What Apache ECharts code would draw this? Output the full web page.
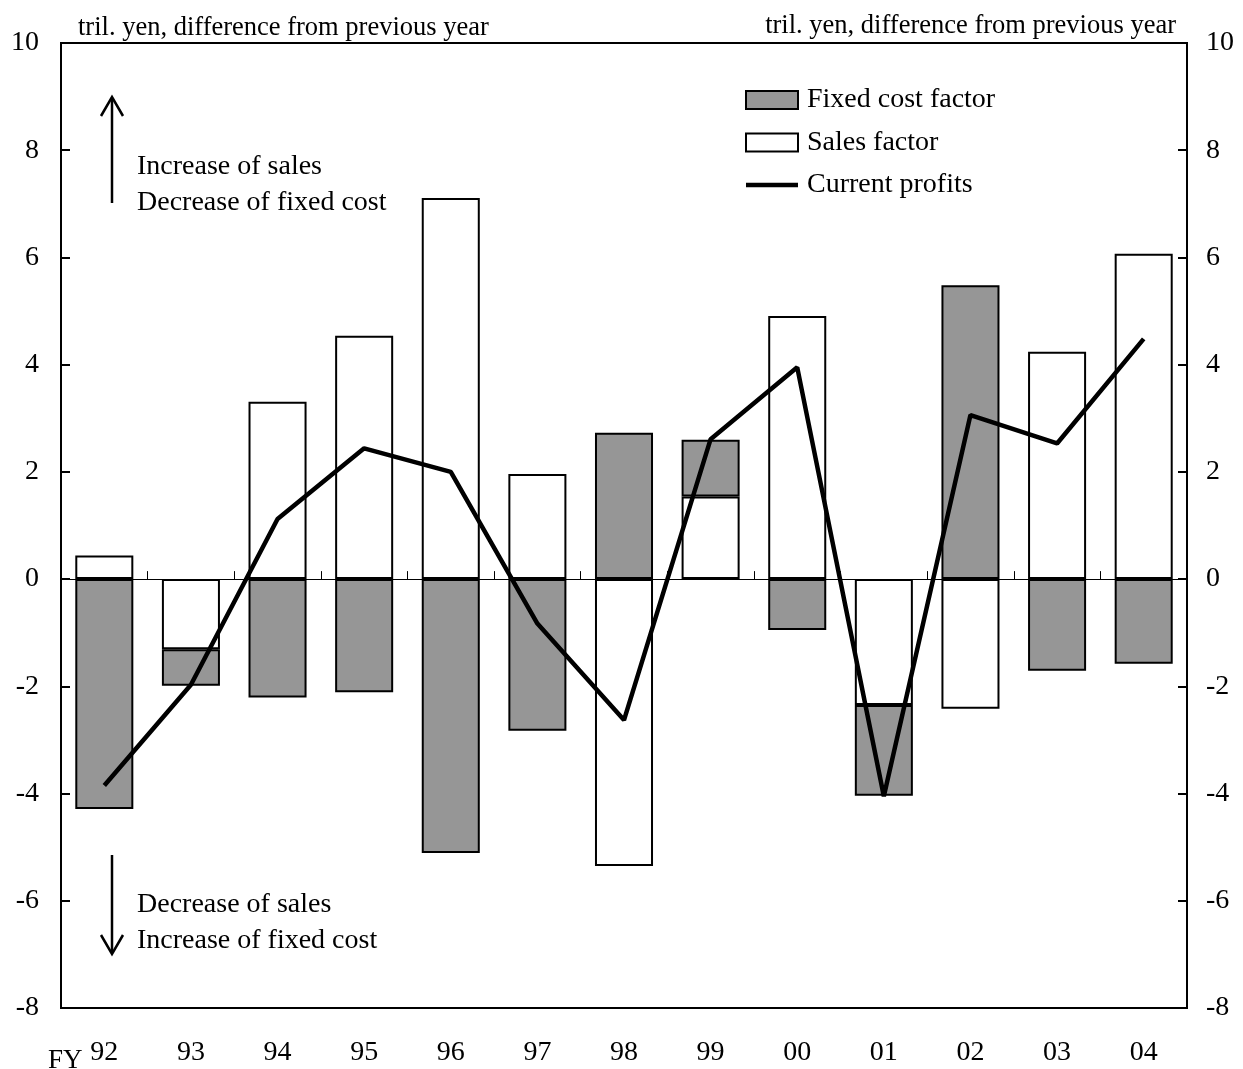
<!DOCTYPE html>
<html>
<head>
<meta charset="utf-8">
<script src="https://cdn.jsdelivr.net/npm/echarts@6/dist/echarts.min.js"></script>
<style>
  html, body { margin: 0; padding: 0; background: #fff; }
  #chart { width: 1243px; height: 1069px; }
</style>
</head>
<body>
<div id="chart"></div>
<script>
// Fiscal years on the category axis
const years = ['92', '93', '94', '95', '96', '97', '98', '99', '00', '01', '02', '03', '04'];
// Contributions to the change in current profits (tril. yen, y/y)
const salesFactor = [0.44, -1.31, 3.31, 4.54, 7.11, 1.96, -5.35, 1.54, 4.91, -2.35, -2.42, 4.24, 6.07];
const fixedCostFactor = [-4.29, -0.68, -2.21, -2.11, -5.11, -2.83, 2.73, 1.06, -0.95, -1.69, 5.48, -1.71, -1.58];
const currentProfits = [-3.85, -1.97, 1.12, 2.44, 2.00, -0.83, -2.63, 2.61, 3.95, -4.05, 3.06, 2.53, 4.48];
// Value-axis range and step
const yMin = -8, yMax = 10, yStep = 2;

const FONT = "'Liberation Serif', 'Times New Roman', serif";
const unitText = 'tril. yen, difference from previous year';

const chart = echarts.init(document.getElementById('chart'), null, { renderer: 'canvas' });

const yAxisBase = {
  type: 'value',
  min: yMin,
  max: yMax,
  interval: yStep,
  splitLine: { show: false },
  axisLine: { show: true, lineStyle: { color: '#000', width: 2 } },
  axisTick: { show: true, inside: true, length: 9, lineStyle: { color: '#000', width: 2 } },
  axisLabel: { color: '#000', fontFamily: FONT, fontSize: 28 }
};

const option = {
  animation: false,
  backgroundColor: '#fff',
  grid: {
    left: 61, right: 56, top: 43, bottom: 61,
    show: true, borderColor: '#000', borderWidth: 2, backgroundColor: 'transparent'
  },
  legend: {
    orient: 'vertical',
    left: 745,
    top: 85,
    padding: 0,
    itemWidth: 52,
    itemHeight: 18,
    itemGap: 12.5,
    data: [
      { name: 'Fixed cost factor', icon: 'rect' },
      { name: 'Sales factor', icon: 'rect' },
      // plain thick stroke, no marker
      { name: 'Current profits', icon: 'path://M0,0H52V4.5H0Z' }
    ],
    textStyle: { color: '#000', fontFamily: FONT, fontSize: 28, lineHeight: 30, padding: [0, 0, 0, 4] },
    selectedMode: false
  },
  xAxis: [
    {
      // labels along the bottom of the frame
      type: 'category',
      data: years,
      position: 'bottom',
      axisLine: { show: false, onZero: false },
      axisTick: { show: false },
      axisLabel: { color: '#000', fontFamily: FONT, fontSize: 28, margin: 31 }
    },
    {
      // thin zero line with small upward ticks between the years
      type: 'category',
      data: years,
      position: 'top',
      axisLine: { show: true, onZero: true, lineStyle: { color: '#000', width: 1 } },
      axisTick: { show: true, inside: false, length: 8, lineStyle: { color: '#000', width: 1 } },
      axisLabel: { show: false }
    }
  ],
  yAxis: [
    Object.assign({}, yAxisBase, { position: 'left', axisLabel: Object.assign({}, yAxisBase.axisLabel, { margin: 22 }) }),
    Object.assign({}, yAxisBase, { position: 'right', axisLabel: Object.assign({}, yAxisBase.axisLabel, { margin: 19 }) })
  ],
  series: [
    {
      name: 'Sales factor',
      type: 'bar',
      stack: 'factors',
      data: salesFactor,
      barWidth: '67%',
      itemStyle: { color: '#ffffff', borderColor: '#000', borderWidth: 2 },
      z: 2
    },
    {
      name: 'Fixed cost factor',
      type: 'bar',
      stack: 'factors',
      data: fixedCostFactor,
      barWidth: '67%',
      itemStyle: { color: '#969696', borderColor: '#000', borderWidth: 2 },
      z: 2
    },
    {
      name: 'Current profits',
      type: 'line',
      data: currentProfits,
      symbol: 'none',
      showSymbol: false,
      lineStyle: { color: '#000', width: 4.5 },
      itemStyle: { color: '#000' },
      z: 5
    }
  ],
  graphic: [
    // units above each value axis
    { type: 'text', left: 78, top: 15, style: { text: unitText, font: '26.5px ' + FONT, fill: '#000' } },
    { type: 'text', right: 67, top: 13, style: { text: unitText, font: '26.5px ' + FONT, fill: '#000' } },
    // FY marker under the first year label
    { type: 'text', left: 48, top: 1047, style: { text: 'FY', font: '27px ' + FONT, fill: '#000' } },
    // direction notes with arrows
    { type: 'line', shape: { x1: 112, y1: 98, x2: 112, y2: 203 }, style: { stroke: '#000', lineWidth: 2.5 } },
    { type: 'polyline', shape: { points: [[101, 116], [112, 97], [123, 116]] }, style: { stroke: '#000', lineWidth: 2.5, fill: null } },
    { type: 'text', left: 137, top: 153, style: { text: 'Increase of sales', font: '28px ' + FONT, fill: '#000' } },
    { type: 'text', left: 137, top: 189, style: { text: 'Decrease of fixed cost', font: '28px ' + FONT, fill: '#000' } },
    { type: 'line', shape: { x1: 112, y1: 855, x2: 112, y2: 953 }, style: { stroke: '#000', lineWidth: 2.5 } },
    { type: 'polyline', shape: { points: [[101, 935], [112, 954], [123, 935]] }, style: { stroke: '#000', lineWidth: 2.5, fill: null } },
    { type: 'text', left: 137, top: 891, style: { text: 'Decrease of sales', font: '28px ' + FONT, fill: '#000' } },
    { type: 'text', left: 137, top: 927, style: { text: 'Increase of fixed cost', font: '28px ' + FONT, fill: '#000' } }
  ]
};

chart.setOption(option);
</script>
</body>
</html>
